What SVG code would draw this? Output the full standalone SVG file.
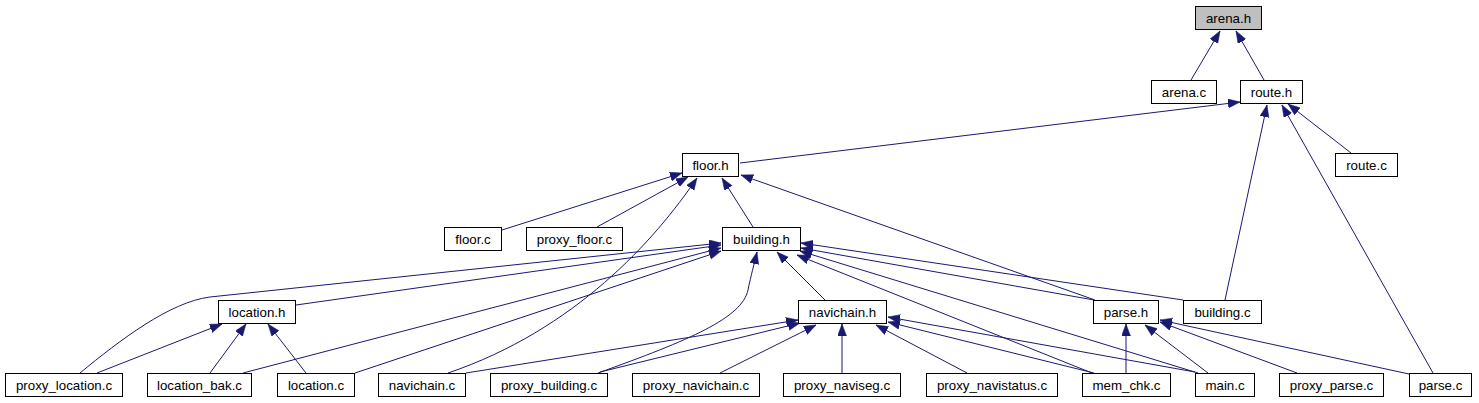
<svg xmlns="http://www.w3.org/2000/svg" width="1479" height="403" viewBox="0 0 1479 403">
<style>
.n rect{fill:#fff;stroke:#000;stroke-width:1}
.n.hl rect{fill:#bfbfbf}
.n text{font-family:"Liberation Sans",Arial,Helvetica,sans-serif;font-size:13.3px;text-anchor:middle;fill:#000}
#edges path{fill:none;stroke:#191970;stroke-width:1;marker-end:url(#ah)}
</style>
<defs>
<marker id="ah" markerUnits="userSpaceOnUse" markerWidth="13" markerHeight="10" refX="12" refY="4.5" orient="auto">
<path d="M0,0 L12,4.5 L0,9 z" fill="#191970" stroke="#191970" stroke-width="0.5"/>
</marker>
</defs>
<rect width="1479" height="403" fill="#fff"/>
<g id="edges">
<path d="M1191,80 L1220,31"/>
<path d="M1264,80 L1236,31"/>
<path d="M740,163 L1240,102"/>
<path d="M1225,300 L1267,105"/>
<path d="M1433,373 L1282,105"/>
<path d="M1351,153 L1288,104"/>
<path d="M502,230 L682,173"/>
<path d="M597,227 L688,177"/>
<path d="M448,373 C575,330 655,240 697,178"/>
<path d="M753,227 L722,178"/>
<path d="M1095,300 L741,175"/>
<path d="M296,305 L721,245"/>
<path d="M80,373 C120,340 170,302 210,297 L721,243"/>
<path d="M243,373 L721,248"/>
<path d="M355,373 L721,251"/>
<path d="M598,373 C690,340 742,318 748,290 C751,275 754,265 757,252"/>
<path d="M825,300 L777,252"/>
<path d="M1094,300 L801,248"/>
<path d="M1183,300 L801,243"/>
<path d="M1092,373 L797,255"/>
<path d="M1198,373 L800,251"/>
<path d="M97,373 L222,324"/>
<path d="M210,373 L246,324"/>
<path d="M306,373 L268,324"/>
<path d="M466,373 L798,320"/>
<path d="M600,372 L800,323"/>
<path d="M720,373 L816,325"/>
<path d="M842,373 L842,324"/>
<path d="M967,373 L876,325"/>
<path d="M1094,373 L888,322"/>
<path d="M1195,372 L888,317"/>
<path d="M1126,373 L1126,324"/>
<path d="M1208,373 L1145,325"/>
<path d="M1297,373 L1160,322"/>
<path d="M1409,374 L1160,320"/>
</g>
<g id="arena_h" class="n hl"><rect x="1195.5" y="6.5" width="66" height="23"/><text x="1228.5" y="23">arena.h</text></g>
<g id="arena_c" class="n"><rect x="1151.5" y="80.5" width="65" height="23"/><text x="1184" y="97">arena.c</text></g>
<g id="route_h" class="n"><rect x="1240.5" y="80.5" width="62" height="23"/><text x="1271.5" y="97">route.h</text></g>
<g id="route_c" class="n"><rect x="1335.5" y="153.5" width="62" height="23"/><text x="1366.5" y="170">route.c</text></g>
<g id="floor_h" class="n"><rect x="682.5" y="153.5" width="56" height="23"/><text x="710.5" y="170">floor.h</text></g>
<g id="floor_c" class="n"><rect x="444.5" y="227.5" width="57" height="23"/><text x="473" y="244">floor.c</text></g>
<g id="proxy_floor_c" class="n"><rect x="526.5" y="227.5" width="96" height="23"/><text x="574.5" y="244">proxy_floor.c</text></g>
<g id="building_h" class="n"><rect x="722.5" y="227.5" width="78" height="23"/><text x="761.5" y="244">building.h</text></g>
<g id="location_h" class="n"><rect x="218.5" y="300.5" width="77" height="23"/><text x="257" y="317">location.h</text></g>
<g id="navichain_h" class="n"><rect x="798.5" y="300.5" width="88" height="23"/><text x="842.5" y="317">navichain.h</text></g>
<g id="parse_h" class="n"><rect x="1093.5" y="300.5" width="65" height="23"/><text x="1126" y="317">parse.h</text></g>
<g id="building_c" class="n"><rect x="1183.5" y="300.5" width="78" height="23"/><text x="1222.5" y="317">building.c</text></g>
<g id="proxy_location_c" class="n"><rect x="5.5" y="373.5" width="117" height="23"/><text x="64" y="390">proxy_location.c</text></g>
<g id="location_bak_c" class="n"><rect x="147.5" y="373.5" width="104" height="23"/><text x="199.5" y="390">location_bak.c</text></g>
<g id="location_c" class="n"><rect x="277.5" y="373.5" width="77" height="23"/><text x="316" y="390">location.c</text></g>
<g id="navichain_c" class="n"><rect x="378.5" y="373.5" width="87" height="23"/><text x="422" y="390">navichain.c</text></g>
<g id="proxy_building_c" class="n"><rect x="490.5" y="373.5" width="117" height="23"/><text x="549" y="390">proxy_building.c</text></g>
<g id="proxy_navichain_c" class="n"><rect x="632.5" y="373.5" width="127" height="23"/><text x="696" y="390">proxy_navichain.c</text></g>
<g id="proxy_naviseg_c" class="n"><rect x="783.5" y="373.5" width="117" height="23"/><text x="842" y="390">proxy_naviseg.c</text></g>
<g id="proxy_navistatus_c" class="n"><rect x="926.5" y="373.5" width="131" height="23"/><text x="992" y="390">proxy_navistatus.c</text></g>
<g id="mem_chk_c" class="n"><rect x="1082.5" y="373.5" width="88" height="23"/><text x="1126.5" y="390">mem_chk.c</text></g>
<g id="main_c" class="n"><rect x="1195.5" y="373.5" width="59" height="23"/><text x="1225" y="390">main.c</text></g>
<g id="proxy_parse_c" class="n"><rect x="1279.5" y="373.5" width="104" height="23"/><text x="1331.5" y="390">proxy_parse.c</text></g>
<g id="parse_c" class="n"><rect x="1409.5" y="373.5" width="62" height="23"/><text x="1440.5" y="390">parse.c</text></g>
</svg>
